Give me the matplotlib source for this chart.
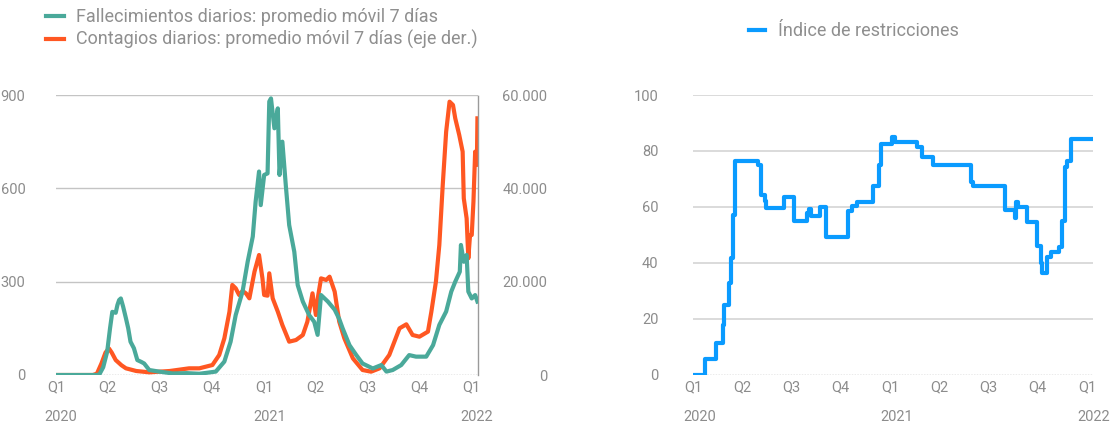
import matplotlib
matplotlib.use("Agg")
import matplotlib.pyplot as plt
import matplotlib.dates as mdates
import pandas as pd

# ---------------- data ----------------
death_dates = ["2020-01-01", "2020-03-11", "2020-03-17", "2020-03-24", "2020-03-31", "2020-04-05",
               "2020-04-09", "2020-04-15", "2020-04-18", "2020-04-21", "2020-04-24", "2020-04-28",
               "2020-05-03", "2020-05-07", "2020-05-11", "2020-05-17", "2020-05-23", "2020-05-30",
               "2020-06-04", "2020-06-13", "2020-06-30", "2020-07-24", "2020-08-18", "2020-09-09",
               "2020-09-26", "2020-10-08", "2020-10-23", "2020-11-03", "2020-11-12", "2020-11-24",
               "2020-12-03", "2020-12-12", "2020-12-17", "2020-12-23", "2020-12-26", "2021-01-01",
               "2021-01-07", "2021-01-10", "2021-01-13", "2021-01-19", "2021-01-25", "2021-01-28",
               "2021-02-02", "2021-02-08", "2021-02-14", "2021-02-23", "2021-03-01", "2021-03-10",
               "2021-03-21", "2021-03-30", "2021-04-05", "2021-04-11", "2021-04-23", "2021-05-05",
               "2021-05-13", "2021-05-19", "2021-05-31", "2021-06-12", "2021-06-23", "2021-07-11",
               "2021-07-26", "2021-08-04", "2021-08-15", "2021-08-30", "2021-09-13", "2021-09-25",
               "2021-10-13", "2021-10-25", "2021-11-05", "2021-11-17", "2021-11-26", "2021-12-03",
               "2021-12-11", "2021-12-13", "2021-12-18", "2021-12-23", "2021-12-26", "2022-01-01",
               "2022-01-07", "2022-01-11"]
deaths = [0, 0, 1, 25, 75, 150,
          203, 200, 225, 241, 246, 220,
          182, 150, 107, 86, 48, 42,
          37, 16, 11, 5, 6, 4,
          8, 11, 43, 107, 193, 268,
          364, 445, 557, 654, 546, 643,
          648, 879, 889, 793, 857, 643,
          750, 611, 482, 396, 289, 236,
          193, 171, 129, 257, 236, 210,
          180, 150, 96, 64, 37, 21,
          32, 11, 16, 32, 64, 59,
          59, 96, 161, 204, 268, 300,
          332, 418, 364, 386, 268, 246,
          257, 236]

case_dates = ["2020-01-01", "2020-03-06", "2020-03-13", "2020-03-21", "2020-03-28", "2020-04-03",
              "2020-04-08", "2020-04-15", "2020-04-25", "2020-05-03", "2020-05-21", "2020-06-13",
              "2020-07-19", "2020-08-22", "2020-09-09", "2020-10-02", "2020-10-14", "2020-10-23",
              "2020-11-01", "2020-11-06", "2020-11-12", "2020-11-18", "2020-11-24", "2020-11-30",
              "2020-12-06", "2020-12-15", "2020-12-23", "2020-12-29", "2021-01-01", "2021-01-07",
              "2021-01-10", "2021-01-16", "2021-01-25", "2021-02-02", "2021-02-14", "2021-02-26",
              "2021-03-10", "2021-03-18", "2021-03-27", "2021-04-02", "2021-04-06", "2021-04-11",
              "2021-04-20", "2021-04-26", "2021-05-05", "2021-05-13", "2021-05-22", "2021-06-06",
              "2021-06-23", "2021-07-08", "2021-07-23", "2021-08-09", "2021-08-18", "2021-08-27",
              "2021-09-08", "2021-09-19", "2021-10-01", "2021-10-16", "2021-10-22", "2021-10-30",
              "2021-11-05", "2021-11-11", "2021-11-17", "2021-11-23", "2021-11-29", "2021-12-03",
              "2021-12-10", "2021-12-16", "2021-12-18", "2021-12-23", "2021-12-26", "2021-12-29",
              "2022-01-01", "2022-01-04", "2022-01-07", "2022-01-10", "2022-01-11"]
cases = [0, 0, 300, 2500, 4800, 5700,
         4800, 3200, 2100, 1430, 860, 570,
         860, 1430, 1430, 2140, 4290, 7860,
         13570, 19290, 18570, 17140, 18000, 17500,
         16430, 22140, 25710, 20710, 17140, 17000,
         21790, 16430, 13570, 10710, 7140, 7500,
         8570, 11430, 17500, 12860, 17000, 20710,
         20360, 21070, 17860, 11430, 7860, 3570,
         1070, 710, 1430, 4290, 7140, 10000,
         10860, 8570, 8210, 9290, 13570, 20000,
         27860, 40710, 52140, 58570, 57860, 55000,
         51430, 47860, 37860, 33570, 25000, 30000,
         30000, 37140, 47860, 45000, 55000]

index_dates = ["2020-01-01", "2020-01-23", "2020-02-13", "2020-02-26", "2020-02-28", "2020-03-08",
               "2020-03-12", "2020-03-15", "2020-03-18", "2020-05-01", "2020-05-06", "2020-05-13",
               "2020-05-16", "2020-06-17", "2020-07-07", "2020-07-30", "2020-08-04", "2020-08-07",
               "2020-08-24", "2020-09-03", "2020-10-15", "2020-10-22", "2020-10-31", "2020-11-29",
               "2020-12-11", "2020-12-15", "2021-01-05", "2021-01-10", "2021-02-20", "2021-02-28",
               "2021-03-21", "2021-05-30", "2021-06-04", "2021-08-02", "2021-08-20", "2021-08-23",
               "2021-08-26", "2021-09-11", "2021-10-01", "2021-10-07", "2021-10-09", "2021-10-18",
               "2021-10-26", "2021-11-10", "2021-11-16", "2021-11-21", "2021-11-25", "2021-12-02",
               "2022-01-12"]
index_values = [0, 5.6, 11.3, 18, 25, 33,
                41.7, 57, 76.4, 75, 64.3, 62,
                59.8, 63.5, 55, 57.7, 59.2, 56.8,
                59.9, 49.2, 58.6, 60.5, 61.9, 67.5,
                75, 82.4, 85.1, 83.3, 81.5, 77.7,
                75, 69, 67.6, 58.9, 56.2, 61.9,
                60.1, 54.8, 46.2, 40, 36.5, 42.3,
                44, 45.6, 55.1, 74.4, 76.4, 84.3,
                84.3]

quarter_ticks = ["2020-01-01", "2020-04-01", "2020-07-01", "2020-10-01", "2021-01-01",
                 "2021-04-01", "2021-07-01", "2021-10-01", "2022-01-01"]
quarter_labels = ["Q1", "Q2", "Q3", "Q4", "Q1", "Q2", "Q3", "Q4", "Q1"]
year_labels = ["2020", "2021", "2022"]
left_ticks = [0, 300, 600, 900]
right_ticks = [0, 20000, 40000, 60000]
right_tick_labels = ["0", "20.000", "40.000", "60.000"]
index_ticks = [0, 20, 40, 60, 80, 100]

label_deaths = "Fallecimientos diarios: promedio móvil 7 días"
label_cases = "Contagios diarios: promedio móvil 7 días (eje der.)"
label_index = "Índice de restricciones"

# ---------------- style ----------------
plt.rcParams['font.family'] = ['Roboto', 'DejaVu Sans']
TXT = "#8c8c8c"
LEG_TXT = "#8f8f8f"
GRID = "#c4c4c4"
TEAL = "#4aa99a"
ORANGE = "#ff5722"
BLUE = "#0a9bff"

W, H = 1112, 423
fig = plt.figure(figsize=(W / 100, H / 100), dpi=100)

x0 = pd.Timestamp("2020-01-01")
x1 = pd.Timestamp("2022-01-12")

def px_axes(l, t, r, b):
    return fig.add_axes([l / W, 1 - b / H, (r - l) / W, (b - t) / H])

def style_x(ax, ticks, year_shift_days):
    ax.set_xlim(x0, x1)
    ax.set_xticks(pd.to_datetime(ticks))
    ax.set_xticklabels(quarter_labels)
    ax.tick_params(axis='x', length=0, pad=4, labelsize=10.5, labelcolor=TXT)
    tr = ax.get_xaxis_transform()
    for yl in year_labels:
        xpos = pd.Timestamp(f"{yl}-01-01") + pd.Timedelta(days=year_shift_days)
        ax.text(xpos, -0.15, yl, transform=tr, ha='center', va='center',
                fontsize=10.5, color=TXT)

# ---------------- left panel ----------------
ax = px_axes(56, 95, 478, 375)
ax2 = ax.twinx()
ax.set_zorder(ax2.get_zorder() + 1)
ax.patch.set_visible(False)

dd = pd.to_datetime(death_dates)
cd = pd.to_datetime(case_dates)
l2, = ax2.plot(cd, cases, color=ORANGE, lw=3.0, solid_joinstyle='round', label=label_cases)
l1, = ax.plot(dd, deaths, color=TEAL, lw=3.0, solid_joinstyle='round', label=label_deaths)

ax.set_ylim(0, 900)
ax2.set_ylim(0, 60000)
ax.set_yticks(left_ticks)
ax.set_yticklabels([str(v) for v in left_ticks])
ax2.set_yticks(right_ticks)
ax2.set_yticklabels(right_tick_labels)
ax.tick_params(axis='y', length=0, pad=22, labelsize=10.5, labelcolor=TXT)
ax2.tick_params(axis='y', length=0, pad=50, labelsize=10.5, labelcolor=TXT)
for t in ax2.get_yticklabels():
    t.set_horizontalalignment('right')
for v in left_ticks[1:]:
    ax2.axhline(v / 900 * 60000, color=GRID, lw=1.0, zorder=0)
ax2.axhline(0, color="#9a9a9a", lw=1.0, ls=(0, (1, 1)), zorder=0)
for a in (ax, ax2):
    for s in ('top', 'left', 'bottom'):
        a.spines[s].set_visible(False)
ax.spines['right'].set_visible(False)
ax2.spines['right'].set_visible(True)
ax2.spines['right'].set_color("#9a9a9a")
ax2.spines['right'].set_linestyle((0, (1, 1)))
ax2.spines['right'].set_linewidth(1.0)
style_x(ax, quarter_ticks, 9)
ax2.set_xlim(x0, x1)

fig.legend(handles=[l1, l2], loc='upper left', bbox_to_anchor=(46 / W, 1 - 8 / H),
           frameon=False, fontsize=13, handlelength=1.0, handletextpad=0.65,
           labelspacing=0.22, borderpad=0, borderaxespad=0, labelcolor=LEG_TXT)

# ---------------- right panel ----------------
bx = px_axes(693, 95, 1093, 375)
idd = pd.to_datetime(index_dates)
l3, = bx.plot(idd, index_values, color=BLUE, lw=3.0, drawstyle='steps-post', label=label_index)
bx.set_ylim(0, 100)
bx.set_yticks(index_ticks)
bx.set_yticklabels([str(v) for v in index_ticks])
bx.tick_params(axis='y', length=0, pad=25, labelsize=10.5, labelcolor=TXT)
for v in index_ticks[1:]:
    bx.axhline(v, color="#d4d4d4", lw=1.2, zorder=0)
bx.axhline(0, color="#9a9a9a", lw=1.0, ls=(0, (1, 1)), zorder=0)
for s in bx.spines.values():
    s.set_visible(False)
style_x(bx, quarter_ticks, 12)

fig.legend(handles=[l3], loc='upper left', bbox_to_anchor=(749 / W, 1 - 22 / H),
           frameon=False, fontsize=13, handlelength=0.9, handletextpad=0.7,
           borderpad=0, borderaxespad=0, labelcolor=LEG_TXT)

fig.savefig("out.png", dpi=100)
